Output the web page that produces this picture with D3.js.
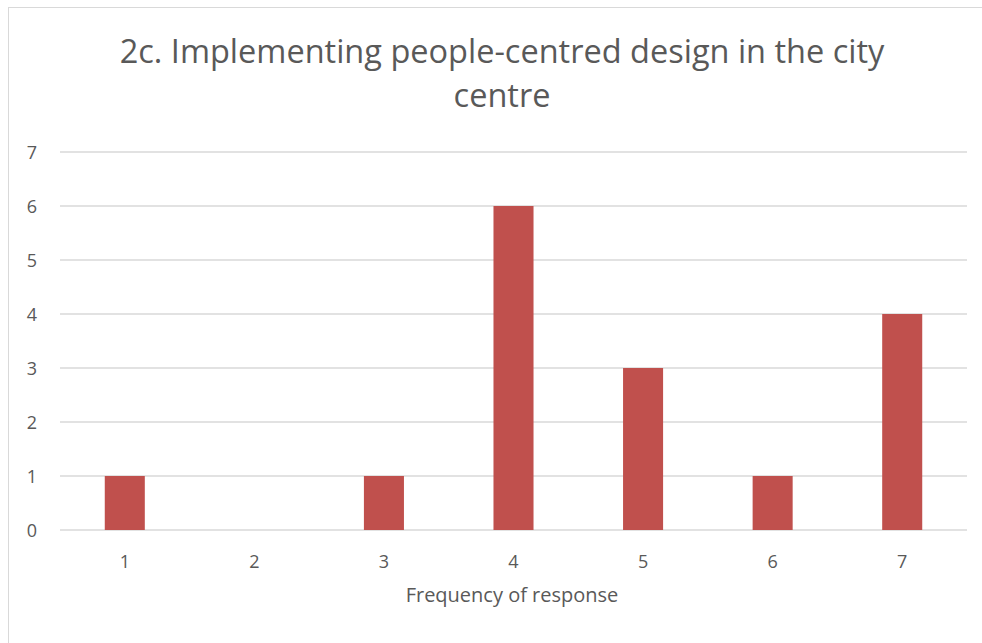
<!DOCTYPE html>
<html><head><meta charset="utf-8">
<script src="https://cdn.jsdelivr.net/npm/d3@7"></script>
<style>body{margin:0;background:#fff}svg{display:block}text{font-family:"Open Sans",sans-serif;fill:#595959}</style>
</head><body>
<svg id="c" width="982" height="643"></svg>
<script>
const categories = ["1","2","3","4","5","6","7"];
const values = [1,0,1,6,3,1,4];
const yTicks = [0,1,2,3,4,5,6,7];
const titleLines = ["2c. Implementing people-centred design in the city","centre"];
const xTitle = "Frequency of response";

const svg = d3.select("#c");
svg.append("rect").attr("x",8.5).attr("y",7.5).attr("width",980).attr("height",640)
  .attr("fill","#fff").attr("stroke","#d9d9d9");

const pL=60, pR=967, pT=152, pB=530;
const x = d3.scaleBand().domain(categories).range([pL,pR]).paddingInner(0.691).paddingOuter(0.3455);
const y = d3.scaleLinear().domain([0,7]).range([pB,pT]);

const g = svg.append("g");
g.selectAll("line.grid").data(yTicks).join("line")
  .attr("x1",pL).attr("x2",pR).attr("y1",d=>y(d)).attr("y2",d=>y(d))
  .attr("stroke","#d9d9d9").attr("stroke-width",1.3);

g.selectAll("rect.bar").data(values).join("rect")
  .attr("x",(d,i)=>x(categories[i])).attr("width",x.bandwidth())
  .attr("y",d=>y(d)).attr("height",d=>pB-y(d)).attr("fill","#c0504d");

const ya = d3.axisLeft(y).tickValues(yTicks).tickFormat(d3.format("d")).tickSize(0).tickPadding(0);
const yg = svg.append("g").attr("transform",`translate(32,0)`).call(ya).attr("font-size",18);
yg.select(".domain").remove();
yg.selectAll("text").style("font-size","18px").attr("text-anchor","middle").attr("dy","0.36em").attr("fill","#595959");

const xa = d3.axisBottom(x).tickSize(0).tickPadding(0);
const xg = svg.append("g").attr("transform",`translate(0,568)`).call(xa).attr("font-size",18);
xg.select(".domain").remove();
xg.selectAll("text").style("font-size","18px").attr("dy","0").attr("fill","#595959");

svg.append("text").attr("x",512).attr("y",602).attr("text-anchor","middle")
  .style("font-size","20px").text(xTitle);

svg.selectAll("text.title").data(titleLines).join("text").attr("class","title")
  .attr("x",502).attr("y",(d,i)=>63+i*44).attr("text-anchor","middle")
  .style("font-size","32.5px").text(d=>d);
</script>
</body></html>
